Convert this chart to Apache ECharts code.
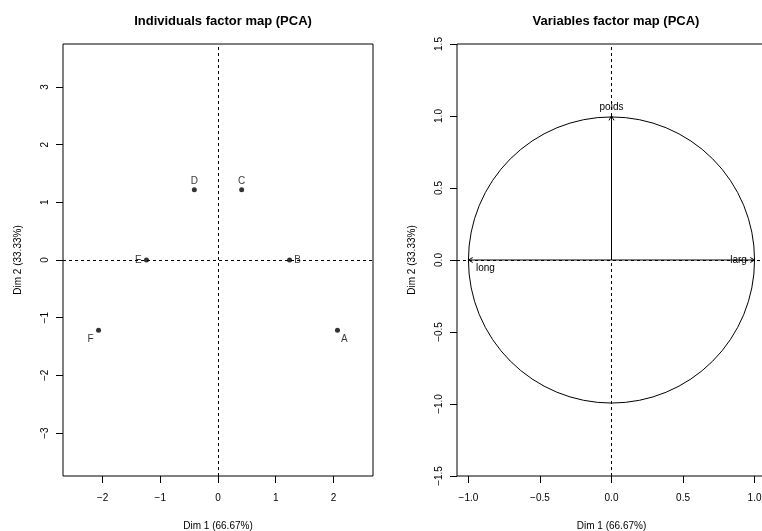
<!DOCTYPE html>
<html>
<head>
<meta charset="utf-8">
<script src="https://cdn.jsdelivr.net/npm/echarts@6/dist/echarts.min.js"></script>
<style>
  html, body { margin: 0; padding: 0; background: #fff; }
  #chart { width: 762px; height: 531px; }
</style>
</head>
<body>
<div id="chart"></div>
<script>
// Individuals: coordinates on the first two principal dimensions
const individuals = ['A', 'B', 'C', 'D', 'E', 'F'];
const indDim1 = [2.07, 1.24, 0.41, -0.41, -1.24, -2.07];
const indDim2 = [-1.22, 0, 1.22, 1.22, 0, -1.22];

// Variables: correlations with the first two dimensions
const variables = ['long', 'larg', 'poids'];
const varDim1 = [-1, 1, 0];
const varDim2 = [0, 0, 1];

// Correlation circle radius
const circleRadius = [1];

// Tick values
const indXTicks = [-2, -1, 0, 1, 2];
const indYTicks = [-3, -2, -1, 0, 1, 2, 3];
const varXTicks = [-1, -0.5, 0, 0.5, 1];
const varYTicks = [-1.5, -1, -0.5, 0, 0.5, 1, 1.5];

// Axis titles
const dim1Title = 'Dim 1 (66.67%)';
const dim2Title = 'Dim 2 (33.33%)';
const titles = ['Individuals factor map (PCA)', 'Variables factor map (PCA)'];

// Label placement (pixel offsets from the mark)
const indLabelOffset = { A: [7, 9], B: [8, 0], C: [0, -8], D: [0, -8], E: [-8, 0], F: [-8, 9] };
const varLabelOffset = { long: [17, 8], larg: [-16, 0], poids: [0, -9] };

const FONT = "'Liberation Sans', Arial, Helvetica, sans-serif";
const minus = s => s.replace('-', '\u2212');

const dashed = {
  silent: true,
  symbol: 'none',
  label: { show: false },
  lineStyle: { color: '#000', width: 1, type: [3, 3] },
  data: [{ xAxis: 0 }, { yAxis: 0 }]
};

function xAxisCfg(gridIndex, min, max, ticks, fmt) {
  return {
    type: 'value', gridIndex, min, max,
    name: dim1Title, nameLocation: 'middle', nameGap: 45,
    nameTextStyle: { fontFamily: FONT, fontSize: 10, color: '#000' },
    axisLine: { show: false, onZero: false },
    axisTick: { show: true, length: 7, customValues: ticks, lineStyle: { color: '#000' } },
    axisLabel: { customValues: ticks, margin: 17, fontFamily: FONT, fontSize: 10, color: '#000', formatter: fmt },
    splitLine: { show: false }
  };
}
function yAxisCfg(gridIndex, min, max, ticks, fmt) {
  return {
    type: 'value', gridIndex, min, max,
    name: dim2Title, nameLocation: 'middle', nameGap: 40, nameRotate: 90,
    nameTextStyle: { fontFamily: FONT, fontSize: 10, color: '#000' },
    axisLine: { show: false, onZero: false },
    axisTick: { show: true, length: 7, customValues: ticks, lineStyle: { color: '#000' } },
    axisLabel: { customValues: ticks, rotate: 90, margin: 13, fontFamily: FONT, fontSize: 10, color: '#000', formatter: fmt },
    splitLine: { show: false }
  };
}

const indFmt = v => minus(String(Math.round(v)));
const varFmt = v => minus(v.toFixed(1));

const indData = individuals.map((n, i) => ({
  name: n,
  value: [indDim1[i], indDim2[i]],
  label: { offset: indLabelOffset[n] }
}));
const varData = variables.map((n, i) => [varDim1[i], varDim2[i], n]);

const chart = echarts.init(document.getElementById('chart'), null, { renderer: 'canvas' });
chart.setOption({
  backgroundColor: '#fff',
  animation: false,
  title: [
    { text: titles[0], left: 218, top: 10, textAlign: 'center',
      textStyle: { fontFamily: FONT, fontSize: 13, fontWeight: 'bold', color: '#000' } },
    { text: titles[1], left: 611, top: 10, textAlign: 'center',
      textStyle: { fontFamily: FONT, fontSize: 13, fontWeight: 'bold', color: '#000' } }
  ],
  grid: [
    { left: 63, right: 389, top: 44, bottom: 55, show: true, borderColor: '#000', borderWidth: 1,
      backgroundColor: 'transparent', containLabel: false, outerBoundsMode: 'none' },
    { left: 457, right: -4, top: 44, bottom: 55, show: true, borderColor: '#000', borderWidth: 1,
      backgroundColor: 'transparent', containLabel: false, outerBoundsMode: 'none' }
  ],
  xAxis: [
    xAxisCfg(0, -2.686, 2.686, indXTicks, indFmt),
    xAxisCfg(1, -1.08, 1.08, varXTicks, varFmt)
  ],
  yAxis: [
    yAxisCfg(0, -3.745, 3.745, indYTicks, indFmt),
    yAxisCfg(1, -1.5, 1.5, varYTicks, varFmt)
  ],
  series: [
    {
      type: 'scatter', xAxisIndex: 0, yAxisIndex: 0, z: 3,
      symbol: 'circle', symbolSize: 5,
      itemStyle: { color: '#000' },
      label: {
        show: true, position: 'inside', formatter: '{b}',
        align: 'center', verticalAlign: 'middle',
        fontFamily: FONT, fontSize: 10, color: '#000'
      },
      data: indData,
      markLine: dashed
    },
    {
      // Correlation circle
      type: 'custom', xAxisIndex: 1, yAxisIndex: 1, z: 2, silent: true,
      data: circleRadius.map(r => [0, 0, r]),
      renderItem: (params, api) => {
        const c = api.coord([api.value(0), api.value(1)]);
        const r = api.size([api.value(2), 0])[0];
        return {
          type: 'circle',
          shape: { cx: c[0], cy: c[1], r },
          style: { fill: null, stroke: '#000', lineWidth: 1 }
        };
      },
      markLine: dashed
    },
    {
      // Variable arrows with open heads and labels
      type: 'custom', xAxisIndex: 1, yAxisIndex: 1, z: 4, silent: true,
      data: varData,
      renderItem: (params, api) => {
        const o = api.coord([0, 0]);
        const e = api.coord([api.value(0), api.value(1)]);
        const name = variables[params.dataIndex];
        const ang = Math.atan2(e[1] - o[1], e[0] - o[0]);
        const L = 5, spread = Math.PI / 6;
        const h1 = [e[0] - L * Math.cos(ang - spread), e[1] - L * Math.sin(ang - spread)];
        const h2 = [e[0] - L * Math.cos(ang + spread), e[1] - L * Math.sin(ang + spread)];
        const off = varLabelOffset[name];
        return {
          type: 'group',
          children: [
            { type: 'line', shape: { x1: o[0], y1: o[1], x2: e[0], y2: e[1] },
              style: { stroke: '#000', lineWidth: 1 } },
            { type: 'polyline', shape: { points: [h1, e, h2] },
              style: { stroke: '#000', lineWidth: 1, fill: null } },
            { type: 'text', x: e[0] + off[0], y: e[1] + off[1],
              style: { text: name, align: 'center', verticalAlign: 'middle',
                       fontFamily: FONT, fontSize: 10, fill: '#000' } }
          ]
        };
      }
    }
  ]
});
</script>
</body>
</html>
